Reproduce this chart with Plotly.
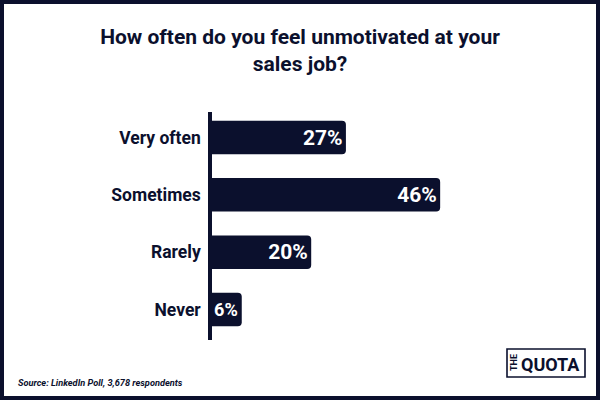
import plotly.graph_objects as go

# ---- data ----
categories = ["Very often", "Sometimes", "Rarely", "Never"]
values = [27, 46, 20, 6]
value_labels = ["27%", "46%", "20%", "6%"]
title_text = "How often do you feel unmotivated at your<br>sales job?"
source_text = "Source: LinkedIn Poll, 3,678 respondents"

NAVY = "#0b102d"
W, H = 600, 400
ML, MR, MT, MB = 212, 40, 112, 60
PW, PH = W - ML - MR, H - MT - MB


def px(x):
    return (x - ML) / PW


def py(y):
    return (H - MB - y) / PH


fig = go.Figure(
    go.Bar(
        x=values,
        y=categories,
        orientation="h",
        width=0.585,
        marker=dict(color=NAVY, line=dict(width=0), cornerradius=4),
        text=value_labels,
        textposition="inside",
        insidetextanchor="end",
        textangle=0,
        textfont=dict(family="Roboto", size=21, color="white", weight=700),
        hoverinfo="skip",
    )
)

fig.update_layout(
    width=W,
    height=H,
    margin=dict(l=ML, r=MR, t=MT, b=MB, pad=0),
    paper_bgcolor="white",
    plot_bgcolor="white",
    showlegend=False,
    title=dict(
        text=title_text,
        x=0.5,
        xref="container",
        xanchor="center",
        y=1 - 44 / H,
        yref="container",
        yanchor="top",
        font=dict(family="Roboto", size=21, color=NAVY, weight=700),
    ),
    xaxis=dict(visible=False, range=[0, PW / 4.96], fixedrange=True),
    yaxis=dict(
        autorange=False,
        range=[3.532, -0.445],
        showline=True,
        linewidth=3.5,
        linecolor=NAVY,
        showgrid=False,
        zeroline=False,
        ticks="",
        ticklabelstandoff=4,
        tickfont=dict(family="Roboto", size=17.5, color=NAVY, weight=700),
        fixedrange=True,
    ),
)

# outer border
fig.add_shape(
    type="rect", xref="paper", yref="paper",
    x0=px(2), x1=px(W - 2), y0=py(H - 2), y1=py(2),
    line=dict(color=NAVY, width=4), fillcolor="rgba(0,0,0,0)", layer="above",
)

# logo box
fig.add_shape(
    type="rect", xref="paper", yref="paper",
    x0=px(507), x1=px(585), y0=py(377), y1=py(349),
    line=dict(color=NAVY, width=1.6), fillcolor="white", layer="above",
)

fig.add_annotation(
    text="QUOTA", xref="paper", yref="paper", x=px(550), y=py(364),
    xanchor="center", yanchor="middle", showarrow=False,
    font=dict(family="Roboto", size=18, color=NAVY, weight=700),
)
fig.add_annotation(
    text="THE", xref="paper", yref="paper", x=px(514), y=py(363),
    xanchor="center", yanchor="middle", showarrow=False, textangle=-90,
    font=dict(family="Roboto", size=9, color=NAVY, weight=700),
)

# source
fig.add_annotation(
    text=source_text, xref="paper", yref="paper", x=px(16), y=py(382),
    xanchor="left", yanchor="middle", showarrow=False,
    font=dict(family="Roboto", size=9.2, color=NAVY, weight=700, style="italic"),
)

fig.write_html("out.html")
